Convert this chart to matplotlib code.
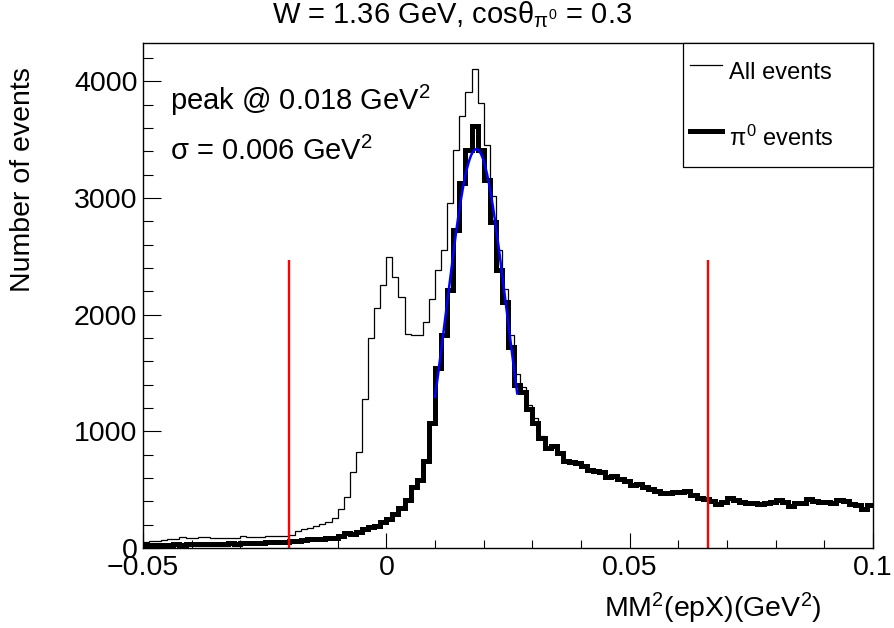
"""MM^2(epX) spectrum, all events vs pi0 events, with Gaussian fit and cuts."""
import numpy as np
import matplotlib
matplotlib.use("Agg")
import matplotlib.pyplot as plt
from matplotlib.lines import Line2D
from matplotlib.ticker import MultipleLocator

plt.rcParams.update({
    "font.family": "Liberation Sans",
    "mathtext.fontset": "custom",
    "mathtext.rm": "Liberation Sans",
    "mathtext.it": "Liberation Sans",
    "mathtext.bf": "Liberation Sans:bold",
    "axes.linewidth": 1.0,
})

# ---------- data (120 bins, -0.05 .. 0.1 GeV^2) ----------
x_lo, x_hi, n_bins = -0.05, 0.1, 120

all_events = [
    54, 60, 63, 69, 77, 80, 97, 89, 83, 91,
    91, 86, 89, 89, 86, 86, 100, 97, 91, 97,
    100, 103, 103, 103, 114, 146, 160, 171, 191, 208,
    223, 254, 331, 440, 648, 826, 1274, 1800, 2060, 2254,
    2496, 2325, 2148, 1839, 1825, 1825, 1939, 2139, 2382, 2559,
    2959, 3416, 3702, 3910, 4110, 3816, 3453, 3016, 2559, 2225,
    1825, 1490, 1382, 1225, 1111, 960, 870, 880, 815, 750,
    738, 728, 706, 672, 663, 651, 614, 623, 591, 577,
    543, 551, 528, 509, 494, 471, 477, 480, 481, 493,
    457, 429, 420, 406, 380, 400, 429, 414, 400, 391,
    386, 380, 391, 400, 414, 394, 363, 386, 391, 420,
    406, 400, 400, 391, 414, 406, 380, 371, 337, 371,
]

pi0_events = [
    25, 28, 22, 30, 30, 32, 28, 33, 35, 33,
    35, 38, 35, 38, 40, 38, 42, 44, 45, 46,
    48, 50, 52, 55, 57, 63, 69, 74, 77, 80,
    86, 89, 103, 126, 120, 140, 160, 177, 188, 226,
    250, 290, 345, 410, 520, 580, 745, 1075, 1540, 1825,
    2211, 2725, 3131, 3410, 3616, 3410, 3153, 2796, 2382, 2111,
    1725, 1400, 1340, 1190, 1068, 940, 854, 874, 811, 745,
    734, 725, 703, 668, 660, 648, 611, 620, 588, 574,
    540, 548, 525, 506, 491, 468, 474, 477, 478, 490,
    454, 426, 417, 403, 377, 397, 426, 411, 397, 388,
    383, 377, 388, 397, 411, 391, 360, 383, 388, 417,
    403, 397, 397, 388, 411, 403, 377, 368, 334, 368,
]

# Gaussian fit to the pi0 peak
fit_mean = 0.0185
fit_sigma = 0.0061
fit_amp = 3420
fit_range = (0.0100, 0.0269)

# cut lines
cut_positions = [-0.02, 0.066]
cut_height = 2470

x_ticks = [-0.05, 0.0, 0.05, 0.1]
x_tick_labels = ["\u22120.05", "0", "0.05", "0.1"]
y_ticks = [0, 1000, 2000, 3000, 4000]
y_tick_labels = ["0", "1000", "2000", "3000", "4000"]

# ---------- figure ----------
W, H = 895, 628
fig = plt.figure(figsize=(W / 100, H / 100), dpi=100)
ax = fig.add_axes([143 / W, (H - 548) / H, 730 / W, 505 / H])

edges = np.linspace(x_lo, x_hi, n_bins + 1)
ax.stairs(all_events, edges, baseline=None, color="black", lw=0.9)
ax.stairs(pi0_events, edges, baseline=None, color="black", lw=3.6)

xf = np.linspace(fit_range[0], fit_range[1], 200)
ax.plot(xf, fit_amp * np.exp(-0.5 * ((xf - fit_mean) / fit_sigma) ** 2),
        color="#0000ff", lw=1.8)

ax.vlines(cut_positions, 0, cut_height, color="#ff0000", lw=1.7)

ax.set_xlim(x_lo, x_hi)
ax.set_ylim(0, 4330)
ax.set_xticks(x_ticks)
ax.set_xticklabels(x_tick_labels)
ax.set_yticks(y_ticks)
ax.set_yticklabels(y_tick_labels)
ax.xaxis.set_minor_locator(MultipleLocator(0.01))
ax.yaxis.set_minor_locator(MultipleLocator(200))
ax.tick_params(which="both", direction="in", top=False, right=False,
               width=0.8, labelsize=20.5)
ax.tick_params(axis="x", which="major", length=11, pad=5)
ax.tick_params(axis="x", which="minor", length=6)
ax.tick_params(axis="y", which="major", length=13, pad=4)
ax.tick_params(axis="y", which="minor", length=7)

ax.set_xlabel("MM$^2$(epX)(GeV$^2$)", fontsize=20.5)
ax.xaxis.set_label_coords(0.930, -0.119)
ax.xaxis.label.set_ha("right")
ax.xaxis.label.set_va("center")
ax.set_ylabel("Number of events", fontsize=20.5)
ax.yaxis.set_label_coords(-0.164, 0.953)
ax.yaxis.label.set_ha("right")
ax.yaxis.label.set_va("center")

fig.text(0.505, 1 - 15 / H, r"W = 1.36 GeV, cos$\theta_{\pi^0}$ = 0.3",
         ha="center", va="center", fontsize=21)

ax.text(0.037, 0.867, "peak @ 0.018 GeV$^2$", transform=ax.transAxes,
        fontsize=21, va="baseline")
ax.text(0.037, 0.768, r"$\sigma$ = 0.006 GeV$^2$", transform=ax.transAxes,
        fontsize=21, va="baseline")

handles = [Line2D([], [], color="black", lw=0.9),
           Line2D([], [], color="black", lw=3.6)]
leg = ax.legend(handles, ["All events", r"$\pi^0$ events"],
                loc="upper left", bbox_to_anchor=(0.7397, 0.0, 0.2603, 1.0),
                fontsize=17, frameon=True, fancybox=False, shadow=False,
                edgecolor="black", framealpha=1, borderpad=0.3,
                handlelength=1.35, handletextpad=0.3, handleheight=2.5,
                labelspacing=0.93, borderaxespad=0, mode="expand")
leg.get_frame().set_linewidth(0.9)

fig.savefig("out.png", dpi=100)
